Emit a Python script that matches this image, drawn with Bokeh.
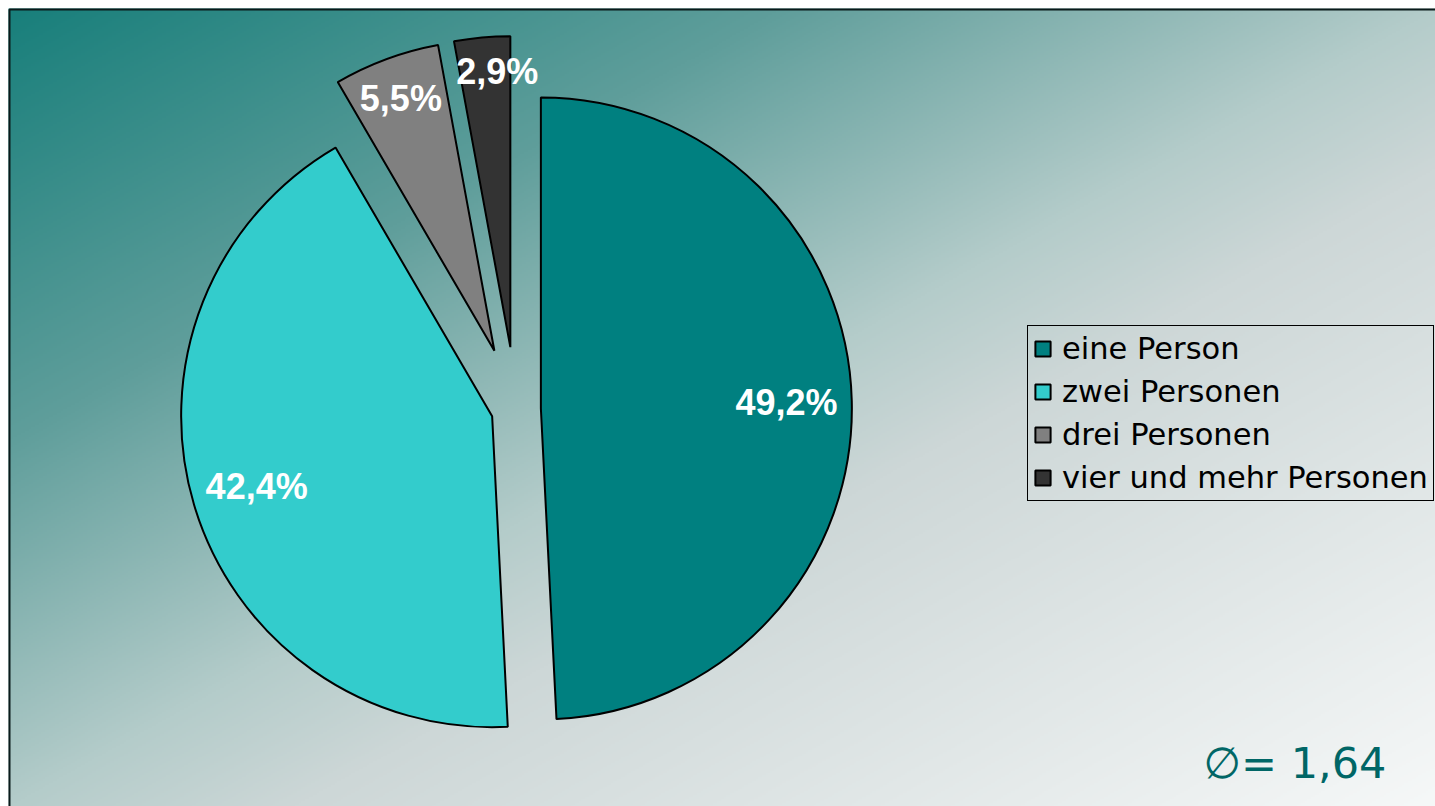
import numpy as np
from bokeh.plotting import figure
from bokeh.models import Range1d, Label, ColumnDataSource
from bokeh.core.properties import value
from bokeh.embed import file_html
from bokeh.resources import INLINE

# ---- data ----
categories = ["eine Person", "zwei Personen", "drei Personen", "vier und mehr Personen"]
shares = [49.2, 42.4, 5.5, 2.9]
pct_labels = ["49,2%", "42,4%", "5,5%", "2,9%"]
average_label = "\u2205= 1,64"

# ---- style ----
colors = ["#008080", "#33CCCC", "#808080", "#333333"]
explode = [0.08, 0.08, 0.2, 0.2]
label_frac = [0.79, 0.79, 0.865, 0.89]
label_dx = [0, 0, 0, 12]

W, H = 1435, 806
R = 311
CX, CY = 515.5, 397.4

p = figure(width=W, height=H, x_range=Range1d(0, W), y_range=Range1d(0, H),
           output_backend="svg", toolbar_location=None, min_border=0,
           x_axis_location=None, y_axis_location=None)
p.grid.visible = False
p.outline_line_color = None
p.background_fill_color = "white"
p.border_fill_color = "white"

# background gradient (top-left teal -> bottom-right white)
gw, gh = 718, 403
u = np.linspace(0, 1, gw)[None, :]
v = np.linspace(1, 0, gh)[:, None]  # row 0 is bottom
t = (u + v) / 2
st = [0.0, 0.27, 0.5, 0.6, 1.0]
sc = np.array([(24, 127, 123), (95, 158, 155), (180, 204, 202), (205, 215, 215), (246, 248, 248)])
img = np.empty((gh, gw), dtype=np.uint32)
view = img.view(dtype=np.uint8).reshape((gh, gw, 4))
for k in range(3):
    view[:, :, k] = np.interp(t, st, sc[:, k]).astype(np.uint8)
view[:, :, 3] = 255
p.image_rgba(image=[img], x=8, y=0, dw=W - 8, dh=H - 8)

# chart area border (right/bottom edges lie outside the window)
p.quad(left=[9], right=[W + 20], bottom=[-20], top=[H - 9],
       fill_color=None, line_color="#0a1a1a", line_width=2)

# pie geometry
frac = np.array(shares) / sum(shares)
cum = np.concatenate([[0], np.cumsum(frac)]) * 360.0
th1, th2 = cum[:-1], cum[1:]
mid = np.radians((th1 + th2) / 2)
dx, dy = np.sin(mid), np.cos(mid)
off = np.array(explode) * R
src = ColumnDataSource(dict(
    cat=categories,
    x=CX + off * dx, y=CY + off * dy,
    start=np.radians(90 - th2), end=np.radians(90 - th1),
    color=colors,
))
p.wedge(x="x", y="y", radius=R, start_angle="start", end_angle="end",
        fill_color="color", line_color="black", line_width=2,
        legend_field="cat", source=src)

lr = off + np.array(label_frac) * R
lsrc = ColumnDataSource(dict(x=CX + lr * dx + np.array(label_dx), y=CY + lr * dy, t=pct_labels))
p.text(x="x", y="y", text="t", source=lsrc, text_color="white",
       text_font=value("Liberation Sans"), text_font_style="bold",
       text_font_size="36px", text_align="center", text_baseline="middle")

# legend
lg = p.legend[0]
lg.location = (1027, 305)
lg.label_text_font = "DejaVu Sans"
lg.label_text_font_size = "30.5px"
lg.label_text_color = "black"
lg.glyph_width = 19
lg.glyph_height = 19
lg.label_standoff = 10
lg.spacing = 8
lg.padding = 5
lg.margin = 0
lg.border_line_color = "black"
lg.border_line_alpha = 1.0
lg.border_line_width = 1.5
lg.background_fill_alpha = 0

# average annotation
p.add_layout(Label(x=1203, y=44, text=average_label, text_font="DejaVu Sans",
                   text_font_size="43px", text_color="#006666",
                   text_baseline="alphabetic", text_align="left"))

open("out.html", "w").write(file_html(p, INLINE))
